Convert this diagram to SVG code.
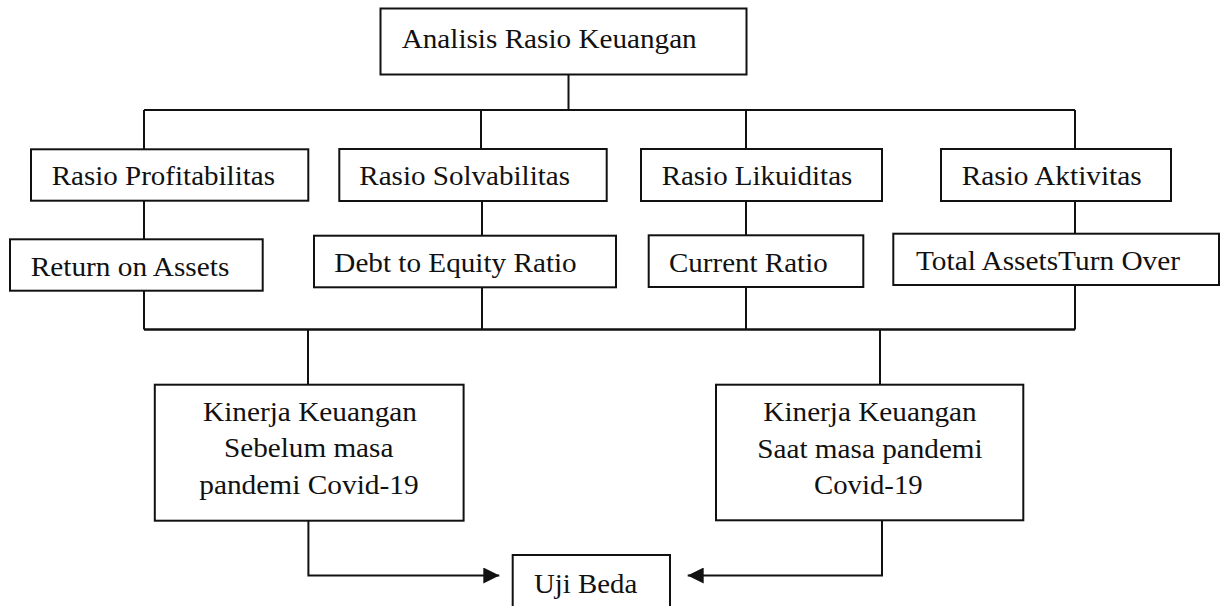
<svg xmlns="http://www.w3.org/2000/svg" width="1220" height="606" viewBox="0 0 1220 606">
  <style>
    .box { fill: #ffffff; stroke: #111111; stroke-width: 2; }
    .lbl { font-family: "Liberation Serif", "Times New Roman", serif; font-size: 28px; fill: #111111; }
    .con { fill: none; stroke: #111111; stroke-width: 2; }
  </style>
  <defs>
    <marker id="arrow" markerUnits="userSpaceOnUse" markerWidth="16" markerHeight="16" refX="16" refY="8" orient="auto">
      <path d="M0,0 L16,8 L0,16 z" fill="#111111"/>
    </marker>
  </defs>
  <rect width="1220" height="606" fill="#ffffff"/>

  <g id="connectors">
    <path class="con" d="M568.5,74.5 V110"/>
    <path class="con" d="M144,110 H1075"/>
    <path class="con" d="M144,110 V149.3"/>
    <path class="con" d="M481,110 V149"/>
    <path class="con" d="M746,110 V149"/>
    <path class="con" d="M1075,110 V149"/>
    <path class="con" d="M144,200.7 V239.3"/>
    <path class="con" d="M482,201 V235.7"/>
    <path class="con" d="M746,201 V235.3"/>
    <path class="con" d="M1075,201 V233.7"/>
    <path class="con" d="M144,290.7 V329.5"/>
    <path class="con" d="M482,287.3 V329.5"/>
    <path class="con" d="M746,287 V329.5"/>
    <path class="con" d="M1075,285 V329.5"/>
    <path class="con" d="M144,329.5 H1075" style="stroke-width:2.5"/>
    <path class="con" d="M308,329.5 V384.7"/>
    <path class="con" d="M880,329.5 V384.7"/>
    <path class="con" d="M308.4,520.7 V575.5 H499.3" marker-end="url(#arrow)"/>
    <path class="con" d="M882,520.3 V575.5 H687.7" marker-end="url(#arrow)"/>
  </g>

  <g id="node-analisis">
    <rect class="box" x="380.5" y="8.5" width="366" height="66"/>
    <text class="lbl" x="401.7" y="47.5" textLength="295" lengthAdjust="spacingAndGlyphs">Analisis Rasio Keuangan</text>
  </g>

  <g id="node-profitabilitas">
    <rect class="box" x="31" y="149.3" width="277.3" height="51.4"/>
    <text class="lbl" x="51.7" y="185" textLength="223.3" lengthAdjust="spacingAndGlyphs">Rasio Profitabilitas</text>
  </g>
  <g id="node-solvabilitas">
    <rect class="box" x="339.3" y="149" width="267.4" height="52"/>
    <text class="lbl" x="359.3" y="185" textLength="210.7" lengthAdjust="spacingAndGlyphs">Rasio Solvabilitas</text>
  </g>
  <g id="node-likuiditas">
    <rect class="box" x="641" y="149" width="241" height="52"/>
    <text class="lbl" x="661.7" y="185" textLength="190.6" lengthAdjust="spacingAndGlyphs">Rasio Likuiditas</text>
  </g>
  <g id="node-aktivitas">
    <rect class="box" x="941" y="149" width="230" height="52"/>
    <text class="lbl" x="961.7" y="185" textLength="180" lengthAdjust="spacingAndGlyphs">Rasio Aktivitas</text>
  </g>

  <g id="node-roa">
    <rect class="box" x="10" y="239.3" width="252.7" height="51.4"/>
    <text class="lbl" x="30.7" y="275.7" textLength="198.6" lengthAdjust="spacingAndGlyphs">Return on Assets</text>
  </g>
  <g id="node-der">
    <rect class="box" x="314" y="235.7" width="302" height="51.6"/>
    <text class="lbl" x="334.3" y="271.7" textLength="242.4" lengthAdjust="spacingAndGlyphs">Debt to Equity Ratio</text>
  </g>
  <g id="node-cr">
    <rect class="box" x="648.7" y="235.3" width="214.6" height="51.7"/>
    <text class="lbl" x="669" y="271.8" textLength="158.7" lengthAdjust="spacingAndGlyphs">Current Ratio</text>
  </g>
  <g id="node-tato">
    <rect class="box" x="893.3" y="233.7" width="325.7" height="51.3"/>
    <text class="lbl" x="916" y="270" textLength="264" lengthAdjust="spacingAndGlyphs">Total AssetsTurn Over</text>
  </g>

  <g id="node-kinerja-sebelum">
    <rect class="box" x="154.8" y="384.7" width="308.8" height="136"/>
    <text class="lbl" x="203" y="420.5" textLength="214" lengthAdjust="spacingAndGlyphs">Kinerja Keuangan</text>
    <text class="lbl" x="224" y="457.3" textLength="169.4" lengthAdjust="spacingAndGlyphs">Sebelum masa</text>
    <text class="lbl" x="199.2" y="494" textLength="219.5" lengthAdjust="spacingAndGlyphs">pandemi Covid-19</text>
  </g>

  <g id="node-kinerja-saat">
    <rect class="box" x="716" y="384.7" width="307.3" height="135.6"/>
    <text class="lbl" x="763.3" y="420.8" textLength="213.4" lengthAdjust="spacingAndGlyphs">Kinerja Keuangan</text>
    <text class="lbl" x="757.3" y="458" textLength="225.4" lengthAdjust="spacingAndGlyphs">Saat masa pandemi</text>
    <text class="lbl" x="814" y="494" textLength="108.7" lengthAdjust="spacingAndGlyphs">Covid-19</text>
  </g>

  <g id="node-uji-beda">
    <rect class="box" x="512.7" y="555" width="157.3" height="60"/>
    <text class="lbl" x="534" y="593.3" textLength="103.3" lengthAdjust="spacingAndGlyphs">Uji Beda</text>
  </g>
</svg>
